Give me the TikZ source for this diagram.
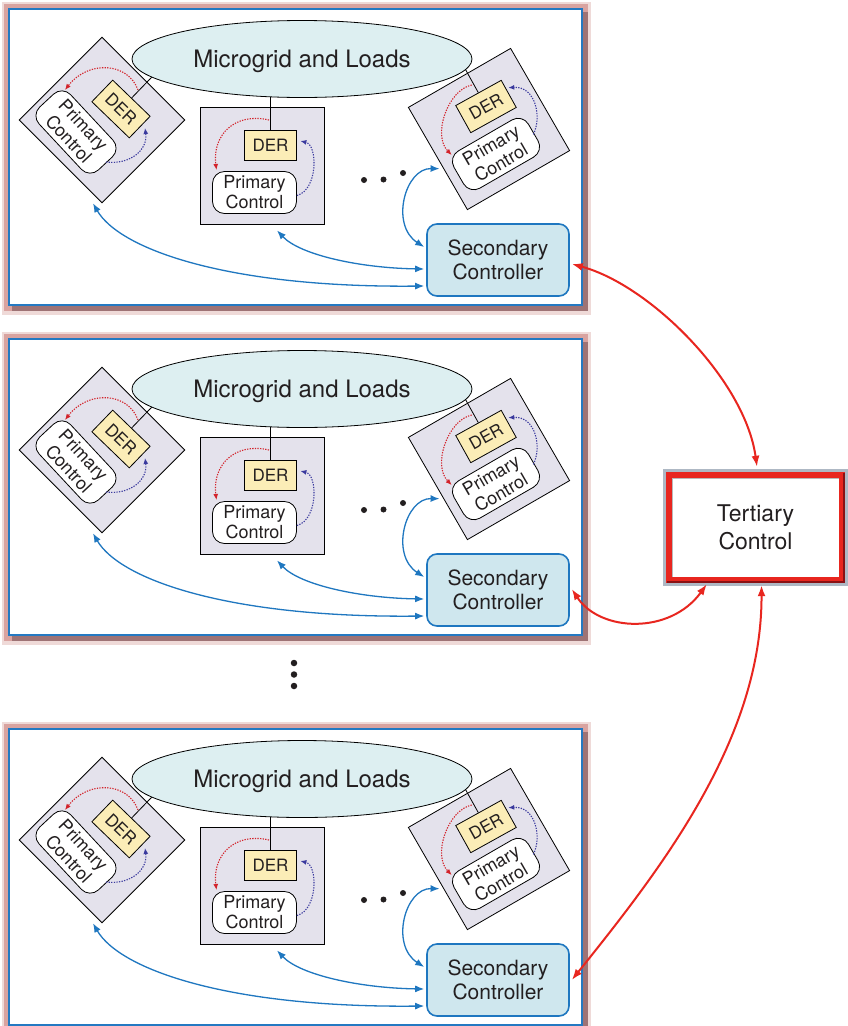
\documentclass[tikz,border=0pt]{standalone}
\usepackage{fontspec}
\setmainfont{TeX Gyre Heros}
\usetikzlibrary{arrows.meta,calc,backgrounds,shapes.geometric}

\definecolor{txt}{HTML}{231F20}
\definecolor{gridfill}{HTML}{DDEFF1}
\definecolor{unitfill}{HTML}{E4E2EC}
\definecolor{derfill}{HTML}{FBEDB7}
\definecolor{secfill}{HTML}{CFE7EE}
\definecolor{linkblue}{HTML}{1F77C0}
\definecolor{panelblue}{HTML}{2479C2}
\definecolor{measred}{HTML}{D3232B}
\definecolor{ctrlind}{HTML}{3A3A9E}
\definecolor{tertred}{HTML}{E8261F}
\definecolor{tertdark}{HTML}{8A1114}
\definecolor{tertglow}{HTML}{AEB8C4}
\definecolor{glowfaint}{HTML}{EFDAD8}
\definecolor{glowpink}{HTML}{D9A3A0}
\definecolor{glowshade}{HTML}{9E7375}

\tikzset{
  unit/.style={draw=black, line width=0.8pt, fill=unitfill, minimum size=118pt, inner sep=0pt},
  derbox/.style={draw=black, line width=0.8pt, fill=derfill, minimum width=52pt, minimum height=30pt,
    inner sep=0pt, text=txt, font=\fontsize{17}{19}\selectfont},
  pcbox/.style={draw=black, line width=0.8pt, fill=white, rounded corners=12pt, minimum width=86pt,
    minimum height=43pt, inner sep=0pt, align=center, text=txt, font=\fontsize{18}{20}\selectfont},
  gridell/.style={ellipse, draw=black, line width=0.8pt, fill=gridfill, minimum width=340pt,
    minimum height=77pt, inner sep=0pt, text depth=0pt, text=txt, font=\fontsize{24}{28}\selectfont},
  secbox/.style={draw=linkblue, line width=1.6pt, fill=secfill, rounded corners=10pt, minimum width=142pt,
    minimum height=72pt, inner sep=0pt, align=center, text=txt, font=\fontsize{21}{24}\selectfont},
  tertbox/.style={fill=white, minimum width=179pt, minimum height=111pt, inner sep=0pt, align=center,
    text=txt, font=\fontsize{23}{28}\selectfont},
  panelframe/.style={draw=panelblue, line width=2.2pt, fill=white, minimum width=573pt,
    minimum height=296pt, inner sep=0pt},
  feedline/.style={draw=black, line width=0.8pt},
  measarrow/.style={draw=measred, line width=1.1pt, dash pattern=on 1.3pt off 1.3pt,
    -{Latex[length=6pt,width=5pt]}},
  ctrlarrow/.style={draw=ctrlind, line width=1.1pt, dash pattern=on 1.3pt off 1.3pt,
    -{Latex[length=6pt,width=5pt]}},
  bluelink/.style={draw=linkblue, line width=1.3pt,
    {Latex[length=9pt,width=7pt]}-{Latex[length=9pt,width=7pt]}},
  redlink/.style={draw=tertred, line width=2pt,
    {Latex[length=11pt,width=8pt]}-{Latex[length=11pt,width=8pt]}},
  dotnode/.style={circle, fill=txt, inner sep=0pt, minimum size=6.5pt},
}

% One microgrid panel: #1 = name prefix, #2 = vertical offset
\newcommand\mgpanel[2]{%
\begin{scope}[shift={(0,#2)}, name prefix=#1-]
  \begin{scope}[on background layer]
    % soft frame shadow
    \fill[glowfaint] (2,2) rectangle (591,315);
    \fill[glowpink] (4,4) rectangle (588,311);
    \fill[glowshade] (12,12) rectangle (588,311);
    \node[panelframe] (frame) at (295.5,157) {};
    \node[unit, rotate=45, minimum size=117pt] (lsq) at (102,120) {};
    \node[unit, minimum width=124pt, minimum height=117pt] (csq) at (262,165.5) {};
    \node[unit, rotate=30] (rsq) at (489,129) {};
  \end{scope}
  \node[gridell] (ell) at (302,59) {Microgrid and Loads};
  % left unit
  \node[derbox, rotate=-44] (lder) at (121,109) {DER};
  \node[pcbox, rotate=-47] (lpc) at (76,132) {Primary\\Control};
  % centre unit
  \node[derbox] (cder) at (270.5,145) {DER};
  \node[pcbox, minimum width=84pt, minimum height=42pt] (cpc) at (254.5,192.5) {Primary\\Control};
  % right unit
  \node[derbox, minimum height=31pt, rotate=29] (rder) at (486,106.5) {DER};
  \node[pcbox, rotate=30] (rpc) at (496,154) {Primary\\Control};
  % further units
  \node[dotnode, minimum size=6pt] (hd1) at (364,180) {};
  \node[dotnode, minimum size=6pt] (hd2) at (383.5,179.5) {};
  \node[dotnode, minimum size=6pt] (hd3) at (403,173) {};
  % secondary controller
  \node[secbox] (sec) at (498,260) {Secondary\\Controller};
  % feeders from each DER to the grid
  \begin{scope}[on background layer]
    \draw[feedline] (lder.north) -- ($(lder.center)!3.4!(lder.north)$);
    \draw[feedline] (cder.north) -- (cder.north |- ell.center);
    \draw[feedline] (rder.north) -- ($(rder.center)!3.4!(rder.north)$);
  \end{scope}
  % local measurement and control loops
  \draw[measarrow] ($(lder)+(17,-19)$) .. controls (128,62) and (88,60) .. ($(lpc)+(-11,-42)$);
  \draw[ctrlarrow] ($(lpc)+(30,30)$) .. controls (130,165) and (148,150) .. ($(lder)+(24,19)$);
  \draw[measarrow] ($(cder)+(-1.5,-25)$) .. controls (235,112) and (212,135) .. ($(cpc)+(-38,-22.5)$);
  \draw[ctrlarrow] ($(cpc.east)+(0,3)$) .. controls (318,190) and (318,145) .. ($(cder.east)+(3.5,-4)$);
  \draw[measarrow] ($(rder)+(-14.3,-21.5)$) .. controls (448,90) and (432,135) .. ($(rpc)+(-44.3,1)$);
  \draw[ctrlarrow] ($(rpc)+(37.3,-19.7)$) .. controls (542,118) and (536,86) .. ($(rder)+(22.3,-18.8)$);
  % secondary communication links
  \draw[bluelink] ($(rsq.west)+(2,10)$) .. controls (405,168) and (390,225) .. ($(sec.west)+(-2,-13)$);
  \draw[bluelink] ($(csq.south)+(15,6)$) .. controls (300,255) and (360,268) .. ($(sec.west)+(-2,9)$);
  \draw[bluelink] ($(lsq.south west)+(-9,0)$) .. controls (120,250) and (230,288) .. ($(sec.west)+(-2,26)$);
\end{scope}}

\begin{document}
\begin{tikzpicture}[x=1pt,y=-1pt]
\useasboundingbox (0,0) rectangle (847,1026);
\begin{scope}[on background layer]
  \fill[white] (0,0) rectangle (847,1026);
\end{scope}

\mgpanel{p1}{0}
\mgpanel{p2}{330}
\mgpanel{p3}{720}

% more microgrids
\node[dotnode] (vd1) at (294,663) {};
\node[dotnode] (vd2) at (294,674.5) {};
\node[dotnode] (vd3) at (294,686) {};

% tertiary control
\node[tertbox] (tert) at (755.5,527.5) {Tertiary\\Control};
\draw[tertglow, line width=3pt] ($(tert.north west)+(-1.5,-1.5)$) rectangle ($(tert.south east)+(1.5,1.5)$);
\draw[tertred, line width=6pt] ($(tert.north west)+(3,3)$) rectangle ($(tert.south east)+(-3,-3)$);
\draw[tertdark, line width=2.5pt] ($(tert.north east)+(-1.25,1.5)$) -- ($(tert.south east)+(-1.25,-1.25)$)
  -- ($(tert.south west)+(1.5,-1.25)$);
\draw[gray!55, line width=1.5pt] ($(tert.south west)+(6.75,-6.5)$) -- ($(tert.north west)+(6.75,6.75)$)
  -- ($(tert.north east)+(-6.5,6.75)$);

% tertiary links
\draw[redlink] ($(p1-sec.east)+(2,4)$) .. controls (650,285) and (745,380) .. ($(tert.north)+(1.5,-5)$);
\draw[redlink] ($(p2-sec.east)+(2,-1)$) .. controls (600,632) and (670,635) .. ($(tert.south west)+(41,1)$);
\draw[redlink] ($(p3-sec.east)+(2,0)$) .. controls (660,870) and (762,740) .. ($(tert.south)+(6,2)$);
\end{tikzpicture}
\end{document}
